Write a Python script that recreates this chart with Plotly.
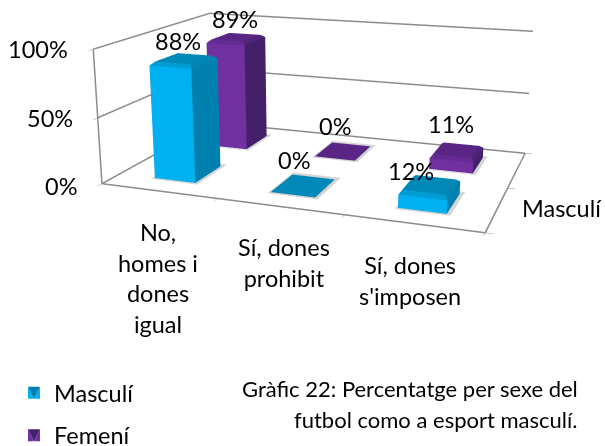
import plotly.graph_objects as go

# ---- data ----
categories = ["No,<br>homes i<br>dones<br>igual", "Sí, dones<br>prohibit", "Sí, dones<br>s'imposen"]
masculi = [88, 0, 12]
femeni = [89, 0, 11]
value_ticks = [0, 50, 100]
depth_label = "Masculí"
caption_lines = ["Gràfic 22: Percentatge per sexe del", "futbol como a esport masculí."]

# ---- page and camera: the scene is larger than the window so that the view matches the original's long lens ----
FW, FH, OFF = 628, 770, 254
def px(x, y):
    return x / FW, 1 - (y + OFF) / FH

GRID = "#8c8c8c"
LIGHT = dict(ambient=1, diffuse=0, specular=0, fresnel=0, roughness=1)
BAR_GAP = 0.32
DEPTH_INSET = 0.27
BEVEL_Z, BEVEL_X, BEVEL_Y = 2.4, 0.028, 0.045

def mix(a, b):
    ca = [int(a[i:i+2], 16) for i in (1, 3, 5)]
    cb = [int(b[i:i+2], 16) for i in (1, 3, 5)]
    return "#" + "".join(f"{(u+v)//2:02x}" for u, v in zip(ca, cb))

def bar_mesh(vals, row, cf, cs, ct):
    xs, ys, zs, I, J, K, fc = [], [], [], [], [], [], []
    y0, y1 = row + DEPTH_INSET, row + 1 - DEPTH_INSET
    def quad(a, b, c, d, col):
        I.extend([a, a]); J.extend([b, c]); K.extend([c, d]); fc.extend([col, col])
    for n, v in enumerate(vals):
        x0, x1 = n + BAR_GAP, n + 1 - BAR_GAP
        b = len(xs)
        if v <= 0:
            xs += [x0, x1, x1, x0]; ys += [y0, y0, y1, y1]; zs += [0.2] * 4
            quad(b, b+1, b+2, b+3, ct)
            continue
        rings = [(0, 0, 0), (v - BEVEL_Z, 0, 0), (v, BEVEL_X, BEVEL_Y)]
        for z, dx, dy in rings:
            xs += [x0+dx, x1-dx, x1-dx, x0+dx]; ys += [y0+dy, y0+dy, y1-dy, y1-dy]; zs += [z] * 4
        quad(b, b+1, b+5, b+4, cf)
        quad(b+1, b+2, b+6, b+5, cs)
        quad(b+3, b+2, b+6, b+7, cs)
        quad(b, b+3, b+7, b+4, cs)
        quad(b+4, b+5, b+9, b+8, mix(cf, ct))
        quad(b+5, b+6, b+10, b+9, mix(cs, ct))
        quad(b+7, b+6, b+10, b+11, ct)
        quad(b+4, b+7, b+11, b+8, ct)
        quad(b+8, b+9, b+10, b+11, ct)
    return xs, ys, zs, I, J, K, fc

def shadow_mesh(vals, row):
    xs, ys, zs, I, J, K = [], [], [], [], [], []
    y0, y1 = row + DEPTH_INSET - 0.03, row + 1 - DEPTH_INSET + 0.06
    for n in range(len(vals)):
        x0, x1 = n + BAR_GAP - 0.015, n + 1 - BAR_GAP + 0.03
        b = len(xs)
        xs += [x0, x1, x1, x0]; ys += [y0, y0, y1, y1]; zs += [0.05] * 4
        I += [b, b]; J += [b+1, b+2]; K += [b+2, b+3]
    return xs, ys, zs, I, J, K

series = [("Masculí", masculi, 0, "#00B0F0", "#0080AE", "#0088B8"),
          ("Femení", femeni, 1, "#7030A0", "#45206A", "#5A2685")]

fig = go.Figure()

# frame and value grid, thicker than the scene's own lines
fx, fy, fz = [], [], []
for v in value_ticks:
    fx += [0, 0, len(categories), None]; fy += [0, len(series), len(series), None]; fz += [v, v, v, None]
fx += [0, 0, None, 0, len(categories), len(categories)]
fy += [0, 0, None, 0, 0, len(series)]
fz += [value_ticks[0], value_ticks[-1], None, 0, 0, 0]
fig.add_trace(go.Scatter3d(x=fx, y=fy, z=fz, mode="lines", line=dict(color=GRID, width=3),
                           showlegend=False, hoverinfo="skip"))

for name, vals, row, cf, cs, ct in series:
    xs, ys, zs, I, J, K = shadow_mesh(vals, row)
    fig.add_trace(go.Mesh3d(x=xs, y=ys, z=zs, i=I, j=J, k=K, color="#d4d4d4", showlegend=False,
                            hoverinfo="skip", flatshading=True, lighting=LIGHT))
for name, vals, row, cf, cs, ct in series:
    xs, ys, zs, I, J, K, fc = bar_mesh(vals, row, cf, cs, ct)
    fig.add_trace(go.Mesh3d(x=xs, y=ys, z=zs, i=I, j=J, k=K, facecolor=fc, color=cf, name=name,
                            legendgroup=name, showlegend=True, flatshading=True, hoverinfo="skip",
                            lighting=LIGHT))

ann = []
cat_dx = [0, 4, -3]
for n, c in enumerate(categories):
    ann.append(dict(x=n+.5, y=0, z=0, text=c, showarrow=False, yanchor="top", yshift=-25, xshift=cat_dx[n]))
for v in value_ticks:
    ann.append(dict(x=0, y=0, z=v, text=f"{v}%", showarrow=False, xanchor="right", xshift=-23, yshift=-2 if v == 0 else 0))
ann.append(dict(x=len(categories), y=1, z=0, text=depth_label, showarrow=False, xanchor="left", xshift=12, yshift=-20))
label_shift = {(0, 0): (-6, 0), (0, 1): (-9, 8), (0, 2): (-19, -4),
               (1, 0): (-1, 0), (1, 1): (-8, 8), (1, 2): (-6, 8)}
for s, (name, vals, row, *_) in enumerate(series):
    for n, v in enumerate(vals):
        dx, dy = label_shift[(s, n)]
        ann.append(dict(x=n+.5, y=row+.5, z=v, text=f"{v}%", showarrow=False, yanchor="bottom",
                        xshift=dx, yshift=2+dy))

ax = dict(showbackground=False, title="", showticklabels=False, showspikes=False, zeroline=False,
          showline=False, showgrid=False, ticks="outside", ticklen=6, tickcolor=GRID)
page_ann = []
for t, y in zip(caption_lines, (388, 419)):
    x_, y_ = px(580, y)
    page_ann.append(dict(x=x_, y=y_, xref="paper", yref="paper", xanchor="right", yanchor="middle",
                         showarrow=False, text=t, font=dict(size=22)))
lx, ly = px(14, 371)
fig.update_layout(
    width=FW, height=FH, margin=dict(l=0, r=0, t=0, b=0), paper_bgcolor="white",
    font=dict(family="Lato", size=23.5, color="black"),
    scene=dict(
        domain=dict(x=[0, 1], y=[0, 1]),
        xaxis=dict(ax, range=[0, 3], tickvals=[0, 1, 2, 3]),
        yaxis=dict(ax, range=[0, 2], tickvals=[0, 1, 2]),
        zaxis=dict(ax, range=[0, 100], tickvals=value_ticks),
        aspectmode="manual", aspectratio=dict(x=1.6, y=1.049, z=0.569),
        camera=dict(eye=dict(x=1.294, y=-3.678, z=0.967), center=dict(x=-0.047, y=-0.005, z=-0.120),
                    up=dict(x=0, y=0, z=1), projection=dict(type="perspective")),
        annotations=ann),
    legend=dict(x=lx, y=ly, yanchor="top", tracegroupgap=9, bgcolor="rgba(0,0,0,0)", font=dict(size=23.5)),
    annotations=page_ann,
)
shift = ("document.body.style.overflow='hidden';document.body.style.margin='0';"
         f"document.querySelector('.plotly-graph-div').style.marginTop='-{OFF}px';")
fig.write_html("out.html", post_script=shift)
